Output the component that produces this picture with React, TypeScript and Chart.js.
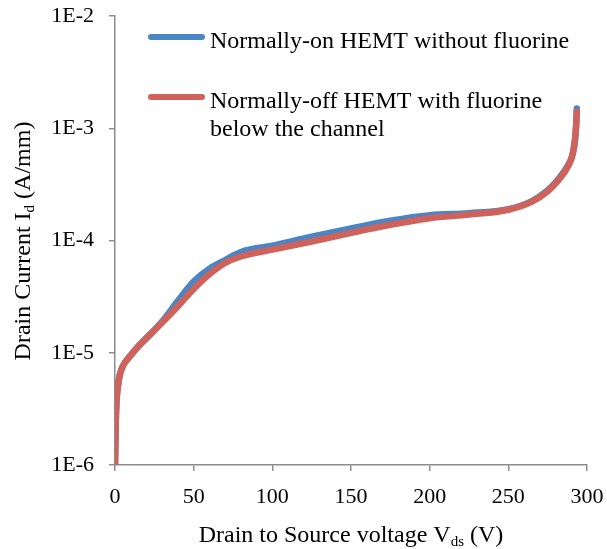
import React, { useEffect, useRef } from "react";
import { Chart, registerables } from "chart.js";

Chart.register(...registerables);

// Drain-source voltage (V) and drain current (A/mm)
const blueVds = [0, 0.5, 1, 2, 3, 5, 10, 15, 20, 30, 40, 50, 60, 70, 80, 100, 125, 150, 175, 200, 225, 250, 265, 275, 282, 288, 291, 293, 293.5];
const blueId = [1.0e-6, 2.5e-6, 3.8e-6, 5.2e-6, 6.3e-6, 7.6e-6, 9.5e-6, 1.15e-5, 1.35e-5, 1.9e-5, 2.9e-5, 4.3e-5, 5.6e-5, 6.7e-5, 7.9e-5, 9.0e-5, 1.08e-4, 1.28e-4, 1.5e-4, 1.68e-4, 1.75e-4, 1.9e-4, 2.24e-4, 2.8e-4, 3.55e-4, 4.7e-4, 6.0e-4, 1.0e-3, 1.5e-3];

const redVds = [0, 0.5, 1, 2, 3, 5, 10, 15, 20, 30, 40, 50, 60, 70, 80, 100, 125, 150, 175, 200, 225, 250, 265, 275, 282, 288, 291, 293, 293.5];
const redId = [1.0e-6, 2.5e-6, 3.8e-6, 5.2e-6, 6.3e-6, 7.6e-6, 9.5e-6, 1.15e-5, 1.35e-5, 1.86e-5, 2.6e-5, 3.7e-5, 5.0e-5, 6.3e-5, 7.2e-5, 8.3e-5, 9.8e-5, 1.17e-4, 1.38e-4, 1.58e-4, 1.70e-4, 1.88e-4, 2.22e-4, 2.75e-4, 3.47e-4, 4.6e-4, 6.0e-4, 1.0e-3, 1.4e-3];

const yTickValues = [1e-6, 1e-5, 1e-4, 1e-3, 1e-2];
const yTickLabels = ["1E-6", "1E-5", "1E-4", "1E-3", "1E-2"];

const seriesNames = ["Normally-on HEMT without fluorine", "Normally-off HEMT with fluorine below the channel"];
const seriesLegendLines = [["Normally-on HEMT without fluorine"], ["Normally-off HEMT with fluorine", "below the channel"]];

const xTitleParts = ["Drain to Source voltage V", "ds", " (V)"];
const yTitleParts = ["Drain Current I", "d", " (A/mm)"];

const BLUE = "#4a86c6";
const RED = "#cf625a";
const FONT = "'Liberation Serif', 'Times New Roman', serif";

function drawSubTitle(ctx: CanvasRenderingContext2D, parts: string[], cx: number, cy: number) {
  const main = `24px ${FONT}`;
  const sub = `15px ${FONT}`;
  ctx.font = main;
  const w0 = ctx.measureText(parts[0]).width;
  const w2 = ctx.measureText(parts[2]).width;
  ctx.font = sub;
  const w1 = ctx.measureText(parts[1]).width;
  const total = w0 + w1 + w2;
  let x = cx - total / 2;
  ctx.textBaseline = "alphabetic";
  ctx.textAlign = "left";
  ctx.fillStyle = "#000";
  ctx.font = main;
  ctx.fillText(parts[0], x, cy);
  x += w0;
  ctx.font = sub;
  ctx.fillText(parts[1], x, cy + 4);
  x += w1;
  ctx.font = main;
  ctx.fillText(parts[2], x, cy);
}

const decorPlugin = {
  id: "decor",
  afterDraw(chart: any) {
    const ctx: CanvasRenderingContext2D = chart.ctx;
    ctx.save();
    // axis titles (baseline positions)
    drawSubTitle(ctx, xTitleParts, 351, 542);
    ctx.save();
    ctx.translate(30, 241);
    ctx.rotate(-Math.PI / 2);
    drawSubTitle(ctx, yTitleParts, 0, 0);
    ctx.restore();
    // legend
    const colors = [BLUE, RED];
    const ys = [37, 97];
    ctx.lineCap = "round";
    ctx.lineWidth = 6;
    seriesLegendLines.forEach((lines, i) => {
      ctx.strokeStyle = colors[i];
      ctx.beginPath();
      ctx.moveTo(151, ys[i]);
      ctx.lineTo(202, ys[i]);
      ctx.stroke();
      ctx.fillStyle = "#000";
      ctx.font = `24px ${FONT}`;
      ctx.textAlign = "left";
      ctx.textBaseline = "alphabetic";
      lines.forEach((t, j) => ctx.fillText(t, 210, ys[i] + 11 + j * 28));
    });
    ctx.restore();
  },
};

export default function App() {
  const ref = useRef<HTMLCanvasElement | null>(null);
  useEffect(() => {
    document.body.style.margin = "0";
    const canvas = ref.current;
    if (!canvas) return;
    const chart = new Chart(canvas, {
      type: "line",
      data: {
        datasets: [
          {
            label: seriesNames[0],
            data: blueVds.map((v, i) => ({ x: v, y: blueId[i] })),
            borderColor: BLUE,
            borderWidth: 6.5,
            pointRadius: 0,
            cubicInterpolationMode: "monotone",
            fill: false,
            order: 1,
            borderCapStyle: "round",
            borderJoinStyle: "round",
          },
          {
            label: seriesNames[1],
            data: redVds.map((v, i) => ({ x: v, y: redId[i] })),
            borderColor: RED,
            borderWidth: 6.5,
            pointRadius: 0,
            cubicInterpolationMode: "monotone",
            fill: false,
            order: 0,
            borderCapStyle: "round",
            borderJoinStyle: "round",
          },
        ],
      },
      options: {
        animation: false,
        responsive: true,
        maintainAspectRatio: false,
        layout: { padding: { top: 16, right: 20, left: 0, bottom: 0 } },
        plugins: { legend: { display: false }, tooltip: { enabled: false } },
        scales: {
          x: {
            type: "linear",
            min: 0,
            max: 300,
            ticks: {
              stepSize: 50,
              color: "#000",
              font: { family: FONT, size: 22 },
              padding: 13,
              maxRotation: 0,
            },
            grid: { drawOnChartArea: false, tickLength: 6, color: "#8c8c8c", lineWidth: 1.5 },
            border: { color: "#8c8c8c", width: 1.5 },
            title: { display: false },
            afterFit: (s: any) => {
              s.height = 84;
              s.paddingLeft = 0;
              s.paddingRight = 0;
            },
          },
          y: {
            type: "logarithmic",
            min: 1e-6,
            max: 1e-2,
            afterBuildTicks: (s: any) => {
              s.ticks = yTickValues.map((v) => ({ value: v }));
            },
            ticks: {
              color: "#000",
              font: { family: FONT, size: 22 },
              padding: 15,
              autoSkip: false,
              callback: (v: any) => {
                const idx = yTickValues.findIndex((t) => Math.abs(Math.log10(t) - Math.log10(Number(v))) < 1e-6);
                return idx >= 0 ? yTickLabels[idx] : "";
              },
            },
            grid: { drawOnChartArea: false, tickLength: 6, color: "#8c8c8c", lineWidth: 1.5 },
            border: { color: "#8c8c8c", width: 1.5 },
            afterFit: (s: any) => {
              s.width = 115;
              s.paddingTop = 0;
              s.paddingBottom = 0;
            },
          },
        },
      } as any,
      plugins: [decorPlugin],
    });
    return () => chart.destroy();
  }, []);
  return (
    <div style={{ position: "absolute", left: 0, top: 0, width: 607, height: 549, background: "#fff" }}>
      <canvas ref={ref} />
    </div>
  );
}
